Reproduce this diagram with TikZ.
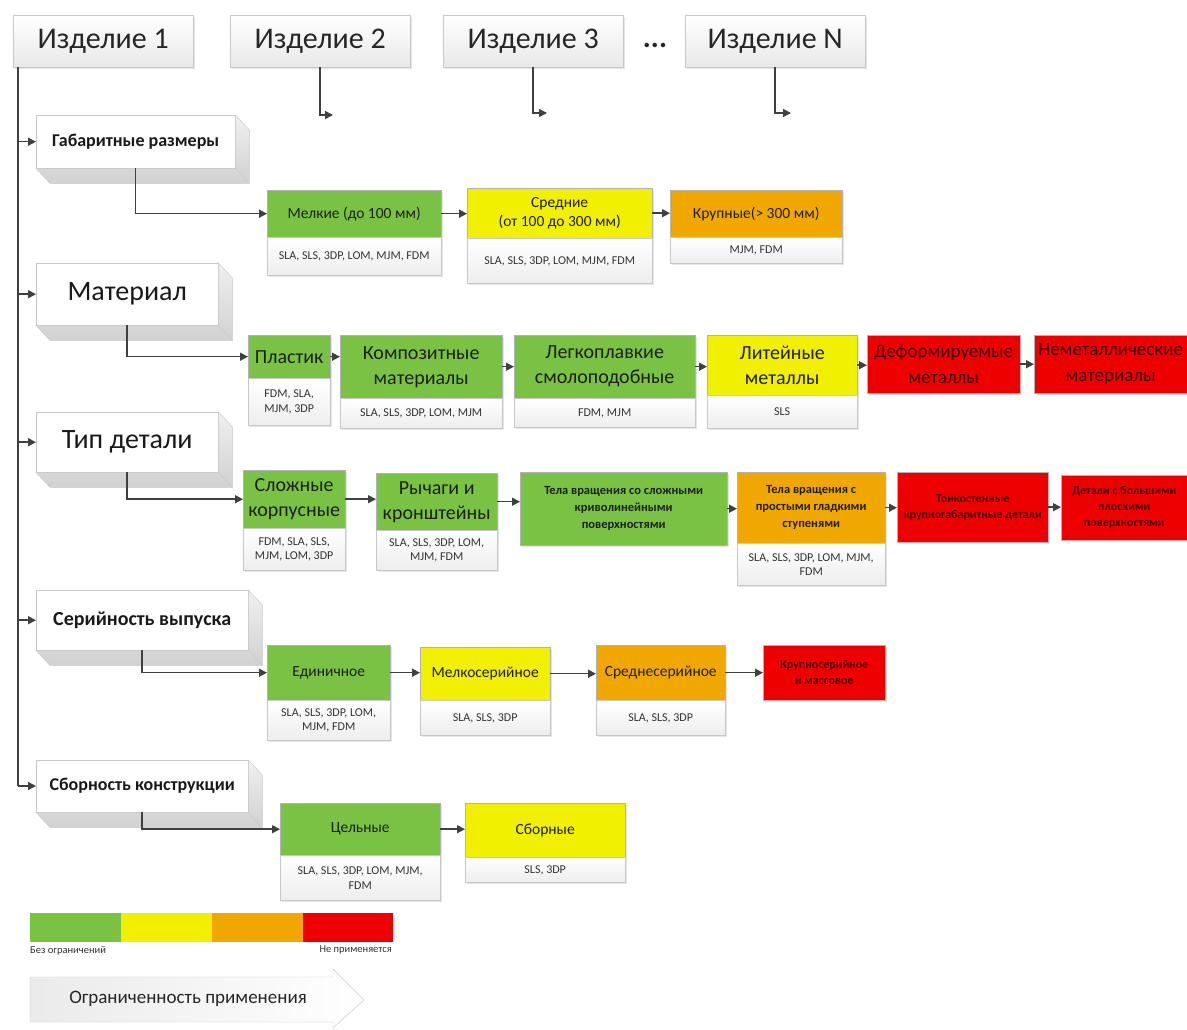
\documentclass[tikz,border=0pt]{standalone}
\usepackage{fontspec}
\setmainfont{Carlito}
\usetikzlibrary{arrows.meta,shadows,calc}
\definecolor{cgreen}{RGB}{122,194,67}
\definecolor{cyellow}{RGB}{240,240,0}
\definecolor{corange}{RGB}{240,168,0}
\definecolor{cred}{RGB}{238,0,0}
\definecolor{lineg}{RGB}{64,64,64}
\newcommand{\Item}[8]{\node[itm,#1,fill=#7,minimum width=#5pt,minimum height=#6pt] (#2) at (#3,#4) {#8};}
\newcommand{\Tech}[5]{\node[tech,minimum width=#3pt,minimum height=#4pt] (#1) at (#2.south west) {#5};}
\newcommand{\Extr}[1]{%
  \path[extr] (#1.north east) -- ($(#1.north east)+(14,15)$) -- ($(#1.south east)+(14,15)$)
    -- ($(#1.south west)+(14,15)$) -- (#1.south west) -- (#1.south east) -- cycle;
  \draw[black!22] (#1.south east) -- ($(#1.south east)+(14,15)$);}
\tikzset{
  lin/.style={draw=lineg, line width=1.5pt},
  arr/.style={lin, -{Triangle[length=8pt,width=8pt]}},
  prodbox/.style={anchor=north west, draw=black!22, top color=white, bottom color=black!9,
    minimum height=52pt, minimum width=180pt, inner sep=0pt,
    font=\fontsize{30}{32}\selectfont, text=black!85,
    drop shadow={opacity=0.2, shadow xshift=2pt, shadow yshift=-2pt}},
  catbox/.style={anchor=north west, draw=black!22, fill=white, inner sep=0pt, text=black!90},
  extr/.style={draw=black!22, top color=black!6, bottom color=black!18},
  itm/.style={anchor=north west, draw=black!30, inner sep=1pt, align=center, text=black!88,
    drop shadow={opacity=0.2, shadow xshift=1.5pt, shadow yshift=-1.5pt}},
  tech/.style={anchor=north west, draw=black!22, top color=white, bottom color=black!7,
    inner sep=1pt, align=center, text=black!80, font=\fontsize{12}{14.5}\selectfont,
    drop shadow={opacity=0.2, shadow xshift=1.5pt, shadow yshift=-1.5pt}},
  fa/.style={font=\fontsize{15.5}{19}\selectfont},
  fb/.style={font=\fontsize{20}{25}\selectfont},
  fc/.style={font=\bfseries\fontsize{12.5}{17}\selectfont},
  fra/.style={font=\fontsize{19}{26}\selectfont, text=black!75!red},
  frc/.style={font=\bfseries\fontsize{12}{16}\selectfont, text=black!70!red},
}
\begin{document}
\begin{tikzpicture}[x=1pt,y=-1pt]
\useasboundingbox (0,0) rectangle (1187,1029);
\fill[white] (0,0) rectangle (1187,1029);

% products
\node[prodbox] (i1) at (13,15) {Изделие 1};
\node[prodbox] (i2) at (230,15) {Изделие 2};
\node[prodbox] (i3) at (443,15) {Изделие 3};
\node[font=\bfseries\fontsize{30}{32}\selectfont, text=black!85] (dots) at (655,45) {...};
\node[prodbox] (iN) at (685,15) {Изделие N};
\coordinate (e2) at (333,115);
\coordinate (e3) at (547,113);
\coordinate (eN) at (791,113);
\draw[arr] (i2.south) |- (e2);
\draw[arr] (i3.south) |- (e3);
\draw[arr] (iN.south) |- (eN);

% categories
\node[catbox, minimum width=199pt, minimum height=53pt, font=\bfseries\fontsize{18}{20}\selectfont] (g) at (36,115) {Габаритные размеры};
\Extr{g}
\node[catbox, minimum width=182pt, minimum height=62pt, font=\fontsize{28}{30}\selectfont] (m) at (36,263) {Материал};
\Extr{m}
\node[catbox, minimum width=182pt, minimum height=60pt, font=\fontsize{28}{30}\selectfont] (t) at (36,412) {Тип детали};
\Extr{t}
\node[catbox, minimum width=212pt, minimum height=60pt, font=\bfseries\fontsize{20}{22}\selectfont] (s) at (36,590) {Серийность выпуска};
\Extr{s}
\node[catbox, minimum width=212pt, minimum height=52pt, font=\bfseries\fontsize{18}{20}\selectfont] (k) at (36,760) {Сборность конструкции};
\Extr{k}

% trunk
\coordinate (tr0) at (18,67);
\coordinate (tr5) at (18,786);
\draw[lin] (tr0) -- (tr5);
\draw[arr] (g.west -| tr0) -- (g.west);
\draw[arr] (m.west -| tr0) -- (m.west);
\draw[arr] (t.west -| tr0) -- (t.west);
\draw[arr] (s.west -| tr0) -- (s.west);
\draw[arr] (tr5) -- (tr5 -| k.west);

% row 1
\Item{fa}{r1a}{267}{190}{174}{47}{cgreen}{Мелкие (до 100 мм)}
\Tech{r1as}{r1a}{174}{38}{SLA, SLS, 3DP, LOM, MJM, FDM}
\Item{fa}{r1b}{467}{188}{185}{50}{cyellow}{Средние\\(от 100 до 300 мм)}
\Tech{r1bs}{r1b}{185}{45}{SLA, SLS, 3DP, LOM, MJM, FDM}
\Item{fa}{r1c}{670}{190}{172}{47}{corange}{Крупные(> 300 мм)}
\Tech{r1cs}{r1c}{172}{26}{MJM, FDM}

% row 2
\Item{fb}{r2a}{248}{335}{82}{43}{cgreen}{Пластик}
\Tech{r2as}{r2a}{82}{47}{FDM, SLA,\\MJM, 3DP}
\Item{fb}{r2b}{340}{335}{162}{63}{cgreen}{Композитные\\материалы}
\Tech{r2bs}{r2b}{162}{30}{SLA, SLS, 3DP, LOM, MJM}
\Item{fb}{r2c}{514}{335}{181}{63}{cgreen}{Легкоплавкие\\смолоподобные}
\Tech{r2cs}{r2c}{181}{29}{FDM, MJM}
\Item{fb}{r2d}{707}{335}{150}{60}{cyellow}{Литейные\\металлы}
\Tech{r2ds}{r2d}{150}{33}{SLS}
\Item{fra}{r2e}{867}{335}{153}{58}{cred}{Деформируемые\\металлы}
\Item{fra}{r2f}{1034}{335}{153}{58}{cred}{Неметаллические\\материалы}

% row 3
\Item{fb}{r3a}{243}{470}{102}{58}{cgreen}{Сложные\\корпусные}
\Tech{r3as}{r3a}{102}{42}{FDM, SLA, SLS,\\MJM, LOM, 3DP}
\Item{fb}{r3b}{376}{473}{121}{57}{cgreen}{Рычаги и\\кронштейны}
\Tech{r3bs}{r3b}{121}{40}{SLA, SLS, 3DP, LOM,\\MJM, FDM}
\Item{fc}{r3c}{520}{472}{207}{73}{cgreen}{Тела вращения со сложными\\криволинейными\\поверхностями}
\Item{fc}{r3d}{737}{472}{148}{71}{corange}{Тела вращения с\\простыми гладкими\\ступенями}
\Tech{r3ds}{r3d}{148}{42}{SLA, SLS, 3DP, LOM, MJM,\\FDM}
\Item{frc}{r3e}{897}{472}{151}{70}{cred}{Тонкостенные\\крупногабаритные детали}
\Item{frc}{r3f}{1061}{475}{126}{65}{cred}{Детали с большими\\плоскими\\поверхностями}

% row 4
\Item{fa}{r4a}{267}{645}{123}{55}{cgreen}{Единичное}
\Tech{r4as}{r4a}{123}{40}{SLA, SLS, 3DP, LOM,\\MJM, FDM}
\Item{fa}{r4b}{420}{647}{130}{53}{cyellow}{Мелкосерийное}
\Tech{r4bs}{r4b}{130}{35}{SLA, SLS, 3DP}
\Item{fa}{r4c}{596}{645}{129}{55}{corange}{Среднесерийное}
\Tech{r4cs}{r4c}{129}{35}{SLA, SLS, 3DP}
\Item{frc}{r4d}{763}{645}{122}{55}{cred}{Крупносерийное\\и массовое}

% row 5
\Item{fa}{r5a}{280}{803}{160}{52}{cgreen}{Цельные}
\Tech{r5as}{r5a}{160}{45}{SLA, SLS, 3DP, LOM, MJM,\\FDM}
\Item{fa}{r5b}{465}{803}{160}{54}{cyellow}{Сборные}
\Tech{r5bs}{r5b}{160}{25}{SLS, 3DP}

% category connectors
\draw[arr] (g.south) |- (r1a.west);
\draw[arr] (m.south) |- (r2a.west);
\draw[arr] (t.south) |- (r3a.west);
\draw[arr] (s.south) |- (r4a.west);
\draw[arr] (k.south) |- (r5a.west);

% row connectors
\foreach \a/\b in {r1a/r1b,r1b/r1c,r2a/r2b,r2b/r2c,r2c/r2d,r2d/r2e,r2e/r2f,
  r3a/r3b,r3b/r3c,r3c/r3d,r3d/r3e,r3e/r3f,r4a/r4b,r4b/r4c,r4c/r4d,r5a/r5b}
  \draw[arr] (\a.east) -- (\a.east -| \b.west);

% legend
\node[anchor=north west, fill=cgreen, minimum width=90.5pt, minimum height=29pt, inner sep=0pt] (l1) at (30,913) {};
\node[anchor=north west, fill=cyellow, minimum width=90.5pt, minimum height=29pt, inner sep=0pt] (l2) at (l1.north east) {};
\node[anchor=north west, fill=corange, minimum width=90.5pt, minimum height=29pt, inner sep=0pt] (l3) at (l2.north east) {};
\node[anchor=north west, fill=cred, minimum width=90.5pt, minimum height=29pt, inner sep=0pt] (l4) at (l3.north east) {};
\node[anchor=north west, inner sep=0pt, font=\fontsize{10.5}{11}\selectfont, text=black!80] (lt1) at (30,946) {Без ограничений};
\node[anchor=north east, inner sep=0pt, font=\fontsize{10.5}{11}\selectfont, text=black!80] (lt2) at (392,946) {Не применяется};
\path[draw=black!22, left color=black!8, right color=white]
  (30,977) -- (333,977) -- (333,969) -- (364,1000) -- (333,1028) -- (333,1022) -- (30,1022) -- cycle;
\node[font=\fontsize{19}{21}\selectfont, text=black!85] (lg) at (188,999) {Ограниченность применения};
\end{tikzpicture}
\end{document}
